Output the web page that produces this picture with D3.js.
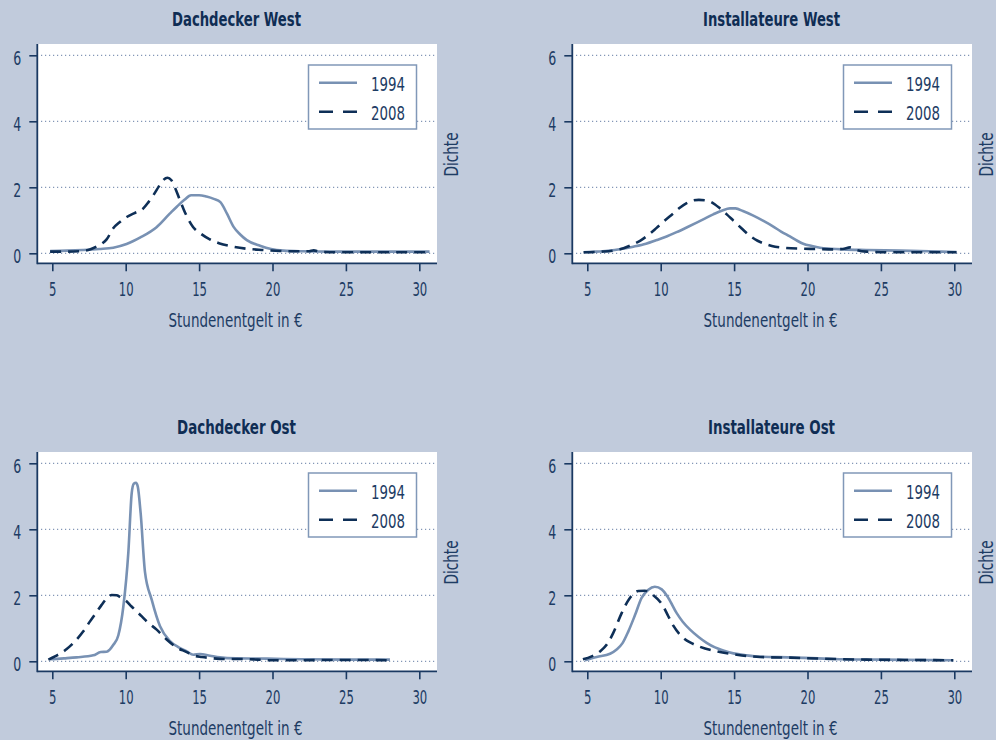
<!DOCTYPE html>
<html>
<head>
<meta charset="utf-8">
<script src="https://cdnjs.cloudflare.com/ajax/libs/d3/7.8.5/d3.min.js"></script>
<style>
body { margin: 0; background: #c1cbdc; }
svg text { font-family: "DejaVu Sans Condensed", "DejaVu Sans", sans-serif; fill: #1d3c64; }
</style>
</head>
<body>
<div id="chart"></div>
<script>
var titles = ["Dachdecker West", "Installateure West", "Dachdecker Ost", "Installateure Ost"];
var years = ["1994", "2008"];
var xTicks = [5, 10, 15, 20, 25, 30];
var yTicks = [0, 2, 4, 6];

// [Stundenentgelt, Dichte]
var dachWest1994 = [[4.85,0.07],[6,0.08],[7.1,0.1],[8.2,0.13],[9.15,0.17],[10.06,0.28],[11.0,0.48],[12.1,0.79],[13.0,1.2],[13.5,1.42],[14.0,1.62],[14.45,1.76],[15.0,1.76],[15.5,1.72],[16.0,1.65],[16.45,1.55],[16.9,1.2],[17.35,0.8],[17.8,0.57],[18.25,0.4],[19.15,0.23],[19.9,0.13],[20.75,0.08],[22,0.06],[24,0.05],[26,0.05],[28,0.05],[30.7,0.05]];
var dachWest2008 = [[4.85,0.05],[6,0.05],[7.1,0.07],[7.6,0.12],[8.0,0.2],[8.4,0.3],[8.7,0.42],[9.15,0.76],[9.6,0.95],[10.07,1.1],[10.6,1.22],[11.2,1.36],[11.55,1.55],[11.9,1.77],[12.25,2.02],[12.56,2.22],[12.85,2.29],[13.1,2.22],[13.35,2.0],[13.65,1.66],[13.95,1.33],[14.3,1.0],[14.6,0.79],[15.1,0.6],[15.7,0.43],[16.4,0.3],[17.1,0.22],[18.2,0.14],[19.4,0.1],[20.5,0.07],[21.8,0.06],[22.5,0.06],[22.8,0.09],[23.2,0.05],[24.5,0.03],[26,0.03],[28,0.03],[30.6,0.03]];
var instWest1994 = [[4.75,0.03],[5.6,0.05],[6.55,0.08],[7.3,0.13],[8.13,0.2],[9.0,0.29],[9.72,0.4],[10.4,0.51],[11.08,0.64],[11.8,0.79],[12.45,0.93],[13.0,1.05],[13.58,1.18],[14.2,1.3],[14.72,1.36],[15.1,1.36],[15.6,1.28],[16.31,1.14],[17.0,0.98],[17.67,0.81],[18.2,0.66],[18.8,0.51],[19.3,0.38],[19.71,0.29],[20.3,0.22],[20.85,0.17],[21.6,0.14],[22.4,0.12],[24.0,0.1],[26.3,0.08],[28.3,0.06],[30.15,0.04]];
var instWest2008 = [[4.75,0.03],[6.0,0.05],[7.23,0.12],[8.0,0.25],[8.59,0.38],[9.2,0.57],[9.72,0.77],[10.3,1.0],[10.86,1.21],[11.3,1.38],[11.77,1.52],[12.2,1.6],[12.6,1.62],[13.0,1.61],[13.36,1.57],[13.7,1.48],[14.04,1.36],[14.5,1.18],[14.95,0.99],[15.5,0.76],[16.08,0.53],[16.6,0.38],[17.2,0.27],[17.8,0.2],[18.35,0.17],[19.5,0.14],[20.6,0.13],[21.76,0.12],[22.4,0.13],[22.9,0.18],[23.35,0.1],[24.03,0.05],[25.5,0.03],[28,0.03],[30.15,0.03]];
var dachOst1994 = [[4.84,0.06],[5.8,0.09],[6.66,0.12],[7.79,0.18],[8.3,0.28],[8.7,0.29],[9.16,0.5],[9.5,0.79],[9.84,1.66],[10.18,3.3],[10.41,5.1],[10.55,5.38],[10.7,5.41],[10.82,5.3],[11.02,4.48],[11.31,2.72],[11.77,1.87],[12.34,1.06],[13.0,0.62],[13.58,0.43],[14.16,0.3],[14.6,0.2],[15.06,0.22],[15.74,0.17],[16.42,0.12],[17.5,0.09],[19.6,0.08],[22,0.06],[25,0.05],[28,0.05]];
var dachOst2008 = [[4.73,0.05],[5.18,0.15],[5.6,0.25],[5.98,0.37],[6.66,0.66],[7.1,0.9],[7.57,1.21],[8.0,1.48],[8.36,1.71],[8.7,1.9],[9.05,2.01],[9.39,2.0],[9.7,1.92],[10.07,1.81],[10.4,1.66],[10.75,1.51],[11.1,1.36],[11.43,1.21],[12.11,0.96],[12.79,0.66],[13.47,0.42],[14.16,0.28],[14.6,0.18],[15.2,0.13],[15.74,0.1],[16.8,0.07],[18.0,0.07],[19.0,0.05],[20.0,0.03],[21.5,0.03],[24,0.04],[26,0.04],[28,0.03]];
var instOst1994 = [[4.84,0.03],[5.64,0.13],[6.55,0.23],[7.0,0.36],[7.4,0.55],[7.79,0.9],[8.25,1.4],[8.7,1.92],[9.16,2.17],[9.6,2.26],[10.07,2.18],[10.52,1.92],[11.09,1.46],[11.5,1.2],[12.0,0.96],[12.6,0.73],[13.13,0.56],[13.7,0.42],[14.26,0.33],[14.95,0.24],[15.86,0.18],[16.8,0.14],[18.8,0.12],[21.76,0.07],[25,0.05],[29.93,0.03]];
var instOst2008 = [[4.7,0.06],[5.3,0.15],[5.87,0.3],[6.35,0.52],[6.77,0.86],[7.34,1.46],[7.9,1.92],[8.47,2.13],[8.93,2.14],[9.5,2.0],[10.18,1.66],[10.5,1.38],[10.86,1.08],[11.54,0.71],[12.1,0.55],[12.67,0.44],[13.81,0.3],[15.18,0.2],[16.76,0.13],[18.8,0.11],[21,0.08],[24.03,0.05],[27,0.04],[29.93,0.03]];

var svgwidth = 996;
var svgheight = 740;
var plot = { left: 38, right: 437, top: 44, bottom: 263 };
var axisColor = "#1a3962";
var color1994 = "#7891b3";
var color2008 = "#0e2f57";

var panels = [
    { title: titles[0], tw: 129, dx: 0, dy: 0, a: dachWest1994, b: dachWest2008 },
    { title: titles[1], tw: 137, dx: 535, dy: 0, a: instWest1994, b: instWest2008 },
    { title: titles[2], tw: 119, dx: 0, dy: 408, a: dachOst1994, b: dachOst2008 },
    { title: titles[3], tw: 127, dx: 535, dy: 408, a: instOst1994, b: instOst2008 }
];

var svg = d3.select("#chart").append("svg").attr("width", svgwidth).attr("height", svgheight);
svg.append("rect").attr("width", svgwidth).attr("height", svgheight).attr("fill", "#c1cbdc");

var xLinear = d3.scaleLinear().domain([5, 30]).range([52.3, 419.3]);
var yLinear = d3.scaleLinear().domain([0, 6]).range([253.3, 55.3]);

var line = d3.line()
    .x(d => xLinear(d[0]))
    .y(d => yLinear(d[1]))
    .curve(d3.curveMonotoneX);

// squeeze text to the condensed look of the original
function squeeze(sel, w) {
    sel.attr("textLength", w).attr("lengthAdjust", "spacingAndGlyphs");
}

panels.forEach(function(p) {
    var g = svg.append("g").attr("transform", `translate(${p.dx}, ${p.dy})`);

    g.append("rect")
        .attr("x", plot.left).attr("y", plot.top)
        .attr("width", plot.right - plot.left).attr("height", plot.bottom - plot.top)
        .attr("fill", "white");

    g.selectAll(".grid").data(yTicks).enter().append("line")
        .attr("x1", plot.left + 3).attr("x2", plot.right)
        .attr("y1", d => yLinear(d)).attr("y2", d => yLinear(d))
        .attr("stroke", "#8396b6").attr("stroke-width", 1.2)
        .attr("stroke-dasharray", "1.2,2.8");

    g.append("path").datum(p.a).attr("d", line)
        .attr("fill", "none").attr("stroke", color1994).attr("stroke-width", 2.6)
        .attr("stroke-linejoin", "round");
    g.append("path").datum(p.b).attr("d", line)
        .attr("fill", "none").attr("stroke", color2008).attr("stroke-width", 2.6)
        .attr("stroke-dasharray", "11,7");

    // legend
    var lg = g.append("g");
    lg.append("rect").attr("x", 308.5).attr("y", 65).attr("width", 108).attr("height", 64)
        .attr("fill", "white").attr("stroke", "#8198b8").attr("stroke-width", 1.5);
    years.forEach(function(yr, i) {
        var ly = 82.7 + i * 29;
        lg.append("line").attr("x1", 319).attr("x2", 357).attr("y1", ly).attr("y2", ly)
            .attr("stroke", i == 0 ? color1994 : color2008).attr("stroke-width", 2.6)
            .attr("stroke-dasharray", i == 0 ? null : "14,10");
        lg.append("text").attr("x", 405).attr("y", ly + 8).attr("text-anchor", "end")
            .style("font-size", "20px").text(yr).call(squeeze, 34);
    });

    var bottomAxis = d3.axisBottom(xLinear).tickValues(xTicks).tickSize(8).tickPadding(11).tickFormat(d3.format("d"));
    var leftAxis = d3.axisLeft(yLinear).tickValues(yTicks).tickSize(8).tickPadding(8).tickFormat(d3.format("d"));

    var xg = g.append("g").attr("transform", `translate(0, ${plot.bottom + 0.3})`).attr("color", axisColor).call(bottomAxis);
    xg.select(".domain").remove();
    xg.selectAll("line").attr("stroke-width", 1.6);
    xg.selectAll("text").style("font-size", "19px")
        .each(function(d) { squeeze(d3.select(this), String(d).length * 7.4); });

    var yg = g.append("g").attr("transform", `translate(${plot.left - 0.7}, 0)`).attr("color", axisColor).call(leftAxis);
    yg.select(".domain").remove();
    yg.selectAll("line").attr("stroke-width", 1.6);
    yg.selectAll("text").style("font-size", "19px").attr("dy", "0.5em").call(squeeze, 8);

    g.append("line").attr("x1", plot.left - 0.7).attr("x2", plot.right)
        .attr("y1", plot.bottom + 0.3).attr("y2", plot.bottom + 0.3)
        .attr("stroke", axisColor).attr("stroke-width", 1.8);
    g.append("line").attr("x1", plot.left - 0.7).attr("x2", plot.left - 0.7)
        .attr("y1", plot.top).attr("y2", plot.bottom + 1.2)
        .attr("stroke", axisColor).attr("stroke-width", 1.8);

    g.append("text").attr("x", (plot.left + plot.right) / 2 - 1).attr("y", 26)
        .attr("text-anchor", "middle").style("font-size", "20px").style("font-weight", "bold")
        .style("fill", "#0f2d54").text(p.title).call(squeeze, p.tw);

    g.append("text").attr("x", 235.5).attr("y", 327)
        .attr("text-anchor", "middle").style("font-size", "20px").text("Stundenentgelt in €")
        .call(squeeze, 134);

    g.append("text").attr("transform", `translate(458, ${(plot.top + plot.bottom) / 2 + 1}) rotate(-90)`)
        .attr("text-anchor", "middle").style("font-size", "19px").text("Dichte")
        .call(squeeze, 44);
});
</script>
</body>
</html>
